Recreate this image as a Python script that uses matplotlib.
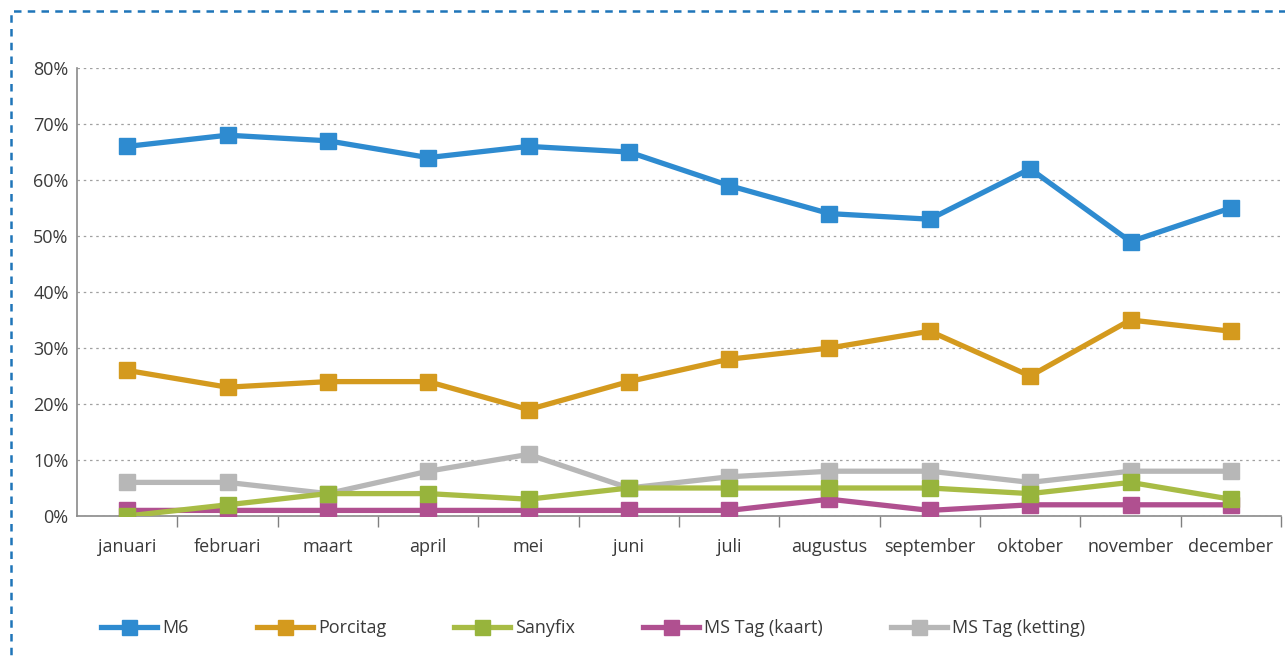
import numpy as np
import matplotlib.pyplot as plt
from matplotlib.patches import Rectangle
from matplotlib.ticker import FixedLocator, PercentFormatter

plt.rcParams['font.family'] = ['Open Sans', 'DejaVu Sans']

months = ['januari', 'februari', 'maart', 'april', 'mei', 'juni', 'juli',
          'augustus', 'september', 'oktober', 'november', 'december']
m6 = [66, 68, 67, 64, 66, 65, 59, 54, 53, 62, 49, 55]
porcitag = [26, 23, 24, 24, 19, 24, 28, 30, 33, 25, 35, 33]
sanyfix = [0, 2, 4, 4, 3, 5, 5, 5, 5, 4, 6, 3]
ms_kaart = [1, 1, 1, 1, 1, 1, 1, 3, 1, 2, 2, 2]
ms_ketting = [6, 6, 4, 8, 11, 5, 7, 8, 8, 6, 8, 8]

series = [
    ('M6', m6, '#2E8BD0', '#2E8BD0', 3),
    ('Porcitag', porcitag, '#D49A1E', '#D49A1E', 3),
    ('Sanyfix', sanyfix, '#A8BC45', '#97B43C', 5),
    ('MS Tag (kaart)', ms_kaart, '#B05090', '#B05090', 3),
    ('MS Tag (ketting)', ms_ketting, '#B7B7B7', '#B7B7B7', 4),
]

fig = plt.figure(figsize=(12.85, 6.59), dpi=100)
ax = fig.add_axes([77 / 1285, 1 - 516 / 659, 1204 / 1285, 448 / 659])

x = np.arange(len(months))
for name, vals, lc, mc, z in series:
    ax.plot(x, vals, color=lc, lw=3.8, marker='s', ms=12, mfc=mc, mec=mc,
            label=name, zorder=z)

ax.set_xlim(-0.5, len(months) - 0.5)
ax.set_ylim(0, 80)
ax.set_yticks(np.arange(0, 81, 10))
ax.yaxis.set_major_formatter(PercentFormatter(decimals=0))
ax.grid(axis='y', color='#A0A0A0', ls=(0, (2, 3)), lw=0.9)
ax.set_axisbelow(True)

ax.set_xticks(x)
ax.set_xticklabels(months)
ax.xaxis.set_minor_locator(FixedLocator(np.arange(0.5, len(months), 1)))
ax.tick_params(axis='x', which='major', length=0, pad=16)
ax.tick_params(axis='x', which='minor', length=8, color='#808080', width=1)
ax.tick_params(axis='y', length=0, pad=6)
ax.tick_params(labelsize=13, labelcolor='#3A3A3A')

for s in ['top', 'right']:
    ax.spines[s].set_visible(False)
for s in ['left', 'bottom']:
    ax.spines[s].set_color('#8A8A8A')
    ax.spines[s].set_linewidth(1.2)

leg = fig.legend(loc='center left', bbox_to_anchor=(85 / 1285, 1 - 628 / 659),
                 ncol=5, frameon=False, fontsize=13, handlelength=3.1,
                 handletextpad=0.3, columnspacing=3.75, markerscale=0.9,
                 labelcolor='#3A3A3A')

fig.add_artist(Rectangle((11 / 1285, -0.1), 1.2, 1 - 11 / 659 + 0.1,
                         transform=fig.transFigure, fill=False,
                         edgecolor='#1F75B9', lw=1.8, ls=(0, (3, 2.5))))

fig.savefig('out.png', dpi=100)
